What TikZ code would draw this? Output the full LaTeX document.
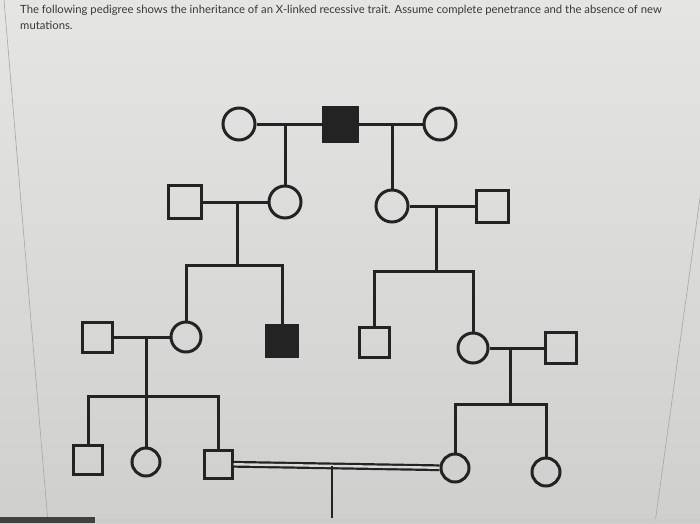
\documentclass[tikz,border=0pt]{standalone}
\usepackage{fontspec}
\setmainfont{Lato}
\usetikzlibrary{calc}
\definecolor{bg}{HTML}{DADAD8}
\definecolor{ink}{HTML}{232323}
\definecolor{txt}{HTML}{383838}
\tikzset{
  male/.style={draw=ink, line width=3pt, minimum size=#1, inner sep=0pt, rectangle},
  female/.style={draw=ink, line width=3pt, minimum size=#1, inner sep=0pt, circle},
  aff/.style={fill=ink},
  link/.style={draw=ink, line width=3pt},
  consang/.style={draw=ink, line width=2.2pt, double=bg, double distance=2.4pt},
}
\begin{document}
\begin{tikzpicture}[x=1pt,y=-1pt]
\useasboundingbox (0,0) rectangle (700,523);
\shade[top color=bg!70!white, bottom color=bg!95!black] (0,0) rectangle (700,523);
% screen edges
\draw[gray!70, line width=0.6pt] (4,0) -- (48,523);
\draw[gray!70, line width=0.6pt] (708,140) -- (655,523);
\fill[black!75] (0,517) rectangle (95,523);
\fill[black!20] (95,519) rectangle (700,523);
% question text
\node[anchor=north west, align=left, text=txt, font=\fontsize{11.3}{16}\selectfont, inner sep=0pt] (q) at (20,5)
 {The following pedigree shows the inheritance of an X-linked recessive trait. Assume complete penetrance and the absence of new\\mutations.};
% Generation I
\node[female=32pt] (I1) at (239,124) {};
\node[male=34pt, aff] (I2) at (340,124) {};
\node[female=32pt] (I3) at (440,124) {};
\draw[link] (I1) -- (I2) -- (I3);
\coordinate (m1) at (285,124);
\coordinate (m2) at (392,124);
% Generation II
\node[male=33pt] (II1) at (185,202) {};
\node[female=32pt] (II2) at (285,202) {};
\node[female=32pt] (II3) at (392,206) {};
\node[male=32pt] (II4) at (492,206) {};
\draw[link] (m1) -- (II2);
\draw[link] (m2) -- (II3);
\draw[link] (II1) -- (II2);
\draw[link] (II3) -- (II4);
\coordinate (m3) at (237,202);
\coordinate (m4) at (436,206);
\coordinate (s1) at (237,265);
\coordinate (s2) at (436,271);
% Generation III
\node[male=30pt] (III1) at (97,337) {};
\node[female=30pt] (III2) at (186,337) {};
\node[male=31pt, aff] (III3) at (282,341) {};
\node[male=30pt] (III4) at (374,342) {};
\node[female=30pt] (III5) at (473,348) {};
\node[male=31pt] (III6) at (561,348) {};
\draw[link] (m3) -- (s1);
\draw[link] (III2) |- (s1) -| (III3);
\draw[link] (m4) -- (s2);
\draw[link] (III4) |- (s2) -| (III5);
\draw[link] (III1) -- (III2);
\draw[link] (III5) -- (III6);
\coordinate (m5) at (146,337);
\coordinate (m6) at (510,348);
\coordinate (s3) at (146,396);
\coordinate (s4) at (510,404);
% Generation IV
\node[male=29pt] (IV1) at (88,460) {};
\node[female=28pt] (IV2) at (146,462) {};
\node[male=28pt] (IV3) at (218,464) {};
\node[female=28pt] (IV4) at (455,468) {};
\node[female=28pt] (IV5) at (546,472) {};
\draw[link] (m5) -- (IV2);
\draw[link] (IV1) |- (s3) -| (IV3);
\draw[link] (m6) -- (s4);
\draw[link] (IV4) |- (s4) -| (IV5);
\draw[consang] (IV3) -- (IV4);
\coordinate (m7) at ($(IV3.east)!0.48!(IV4.west)$);
\coordinate (cb) at (m7 |- 0,518);
\draw[draw=ink, line width=2.2pt] (m7) -- (cb);
\end{tikzpicture}
\end{document}
